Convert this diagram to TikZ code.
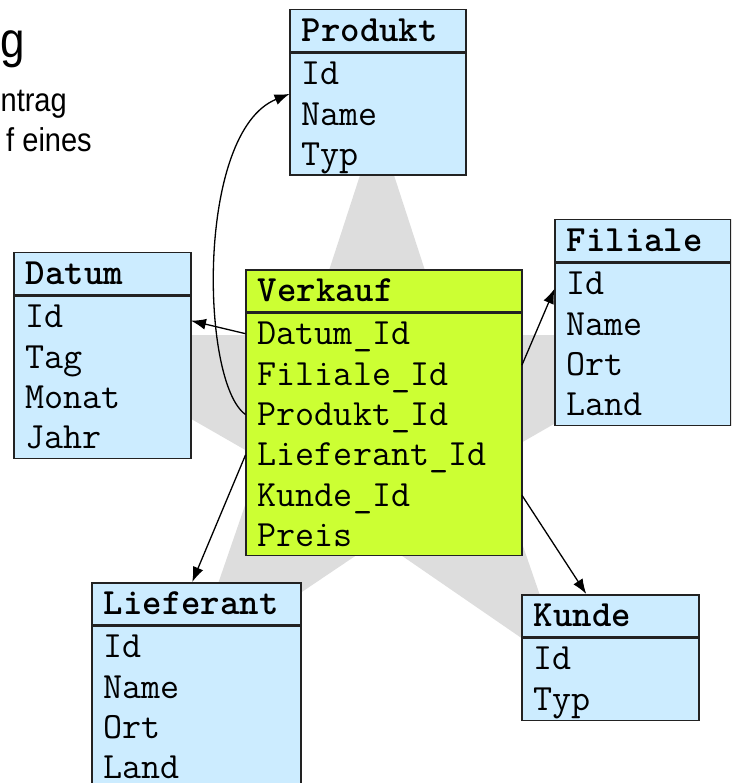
\documentclass[tikz,border=0pt]{standalone}
\usepackage{fontspec}
\setmainfont{Liberation Sans}
\newfontfamily\schmal[FakeStretch=0.88]{Liberation Sans}
\usetikzlibrary{positioning,arrows.meta}

\definecolor{blau}{HTML}{CCECFF}
\definecolor{gruen}{HTML}{CCFF33}
\definecolor{sterngrau}{HTML}{DDDDDD}
\definecolor{rand}{HTML}{222222}
\newcommand{\tabfont}{\ttfamily\fontsize{37}{40}\selectfont}

\tikzset{
  kopf/.style={draw=rand, line width=1.5pt, fill=blau, anchor=north west,
    minimum height=42pt, inner xsep=12pt, inner ysep=0pt,
    text height=22pt, text depth=0pt, font=\tabfont\bfseries},
  koerper/.style={draw=rand, line width=1.5pt, fill=blau, inner sep=0pt},
  feld/.style={inner xsep=12pt, inner ysep=9pt, text height=22pt,
    text depth=0pt, text width=#1, font=\tabfont},
  pfeil/.style={-{Latex[length=15pt,width=11pt]}, line width=1.3pt},
}

\begin{document}
\begin{tikzpicture}[x=1pt,y=-1pt]
            \clip (0,0) rectangle (731,783);

            % Stern im Hintergrund
            \fill[sterngrau] (377,123) -- (446,335) -- (709,335) -- (493,459) -- (565,668)
              -- (379,540) -- (189,668) -- (261,459) -- (45,335) -- (308,335) -- cycle;

            % Folientext (links abgeschnitten)
            \node[anchor=base east, inner sep=0pt, font=\schmal\fontsize{50}{60}\selectfont] (titel) at (25,58) {g};
            \node[anchor=base east, inner sep=0pt, font=\schmal\fontsize{33}{40}\selectfont] (zeile1) at (67,112) {ntrag};
            \node[anchor=base east, inner sep=0pt, font=\schmal\fontsize{33}{40}\selectfont] (zeile2) at (92,152) {f eines};

            % Tabelle Produkt
            \node[kopf, text width=152pt] (produkt) at (289,9) {Produkt};
            \node[koerper, minimum width=176pt, minimum height=122pt, below=0pt of produkt] (produkt-k) {};
            \node[feld=152pt, below=1pt of produkt-k.north] (produkt-1) {Id};
            \node[feld=152pt, below=0pt of produkt-1] (produkt-2) {Name};
            \node[feld=152pt, below=0pt of produkt-2] (produkt-3) {Typ};

            % Tabelle Datum
            \node[kopf, text width=153pt] (datum) at (13,252) {Datum};
            \node[koerper, minimum width=177pt, minimum height=162pt, below=0pt of datum] (datum-k) {};
            \node[feld=153pt, below=1pt of datum-k.north] (datum-1) {Id};
            \node[feld=153pt, below=0pt of datum-1] (datum-2) {Tag};
            \node[feld=153pt, below=0pt of datum-2] (datum-3) {Monat};
            \node[feld=153pt, below=0pt of datum-3] (datum-4) {Jahr};

            % Tabelle Filiale
            \node[kopf, text width=152pt] (filiale) at (554,219) {Filiale};
            \node[koerper, minimum width=176pt, minimum height=162pt, below=0pt of filiale] (filiale-k) {};
            \node[feld=152pt, below=1pt of filiale-k.north] (filiale-1) {Id};
            \node[feld=152pt, below=0pt of filiale-1] (filiale-2) {Name};
            \node[feld=152pt, below=0pt of filiale-2] (filiale-3) {Ort};
            \node[feld=152pt, below=0pt of filiale-3] (filiale-4) {Land};

            % Faktentabelle Verkauf
            \node[kopf, fill=gruen, text width=252pt] (verkauf) at (245,269) {Verkauf};
            \node[koerper, fill=gruen, minimum width=276pt, minimum height=242pt, below=0pt of verkauf] (verkauf-k) {};
            \node[feld=252pt, below=1pt of verkauf-k.north] (verkauf-1) {Datum\_Id};
            \node[feld=252pt, below=0pt of verkauf-1] (verkauf-2) {Filiale\_Id};
            \node[feld=252pt, below=0pt of verkauf-2] (verkauf-3) {Produkt\_Id};
            \node[feld=252pt, below=0pt of verkauf-3] (verkauf-4) {Lieferant\_Id};
            \node[feld=252pt, below=0pt of verkauf-4] (verkauf-5) {Kunde\_Id};
            \node[feld=252pt, below=0pt of verkauf-5] (verkauf-6) {Preis};

            % Tabelle Lieferant
            \node[kopf, text width=185pt] (lieferant) at (91,582) {Lieferant};
            \node[koerper, minimum width=209pt, minimum height=162pt, below=0pt of lieferant] (lieferant-k) {};
            \node[feld=185pt, below=1pt of lieferant-k.north] (lieferant-1) {Id};
            \node[feld=185pt, below=0pt of lieferant-1] (lieferant-2) {Name};
            \node[feld=185pt, below=0pt of lieferant-2] (lieferant-3) {Ort};
            \node[feld=185pt, below=0pt of lieferant-3] (lieferant-4) {Land};

            % Tabelle Kunde
            \node[kopf, text width=153pt] (kunde) at (521,594) {Kunde};
            \node[koerper, minimum width=177pt, minimum height=82pt, below=0pt of kunde] (kunde-k) {};
            \node[feld=153pt, below=1pt of kunde-k.north] (kunde-1) {Id};
            \node[feld=153pt, below=0pt of kunde-1] (kunde-2) {Typ};

            % Fremdschluessel
            \draw[pfeil] (verkauf-1.west) -- ([yshift=-4pt]datum-1.east);
            \draw[pfeil] (verkauf-3.west) .. controls +(-45,-31) and +(-94,38) .. (produkt-2.north west);
            \draw[pfeil] ([yshift=9pt]verkauf-2.east) -- ([yshift=-5pt]filiale-1.west);
            \draw[pfeil] (verkauf-4.west) -- ([xshift=-4pt]lieferant.north);
            \draw[pfeil] (verkauf-5.east) -- ([xshift=-24pt]kunde.north);
        \end{tikzpicture}
\end{document}
